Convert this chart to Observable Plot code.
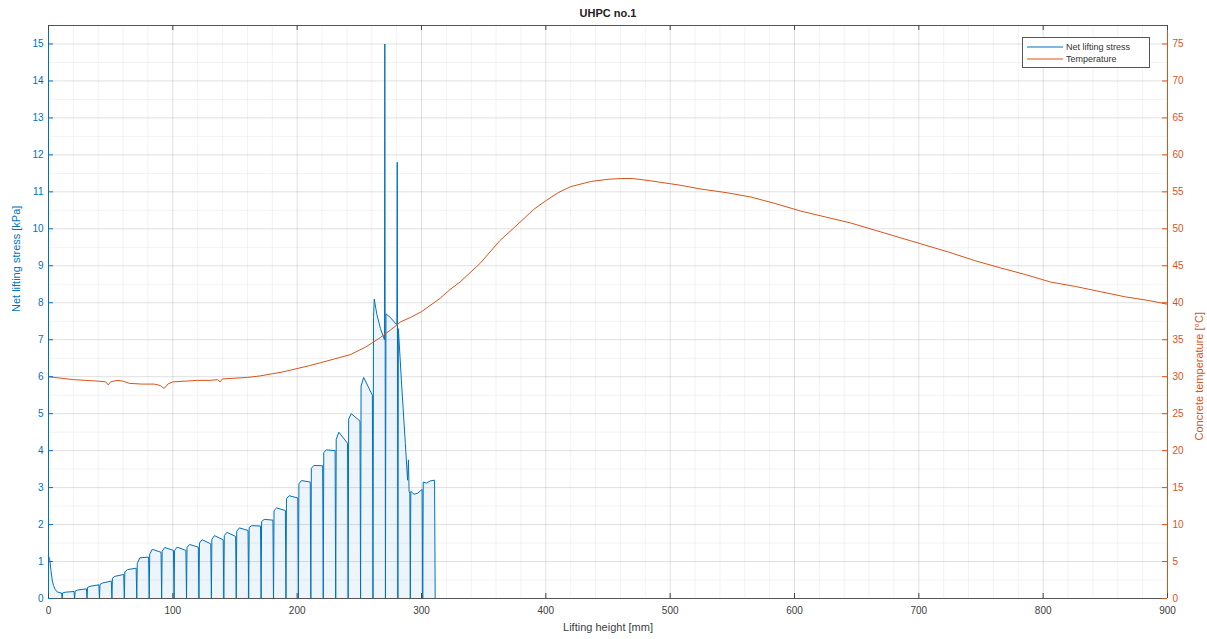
<!DOCTYPE html>
<html>
<head>
<meta charset="utf-8">
<script src="https://cdn.jsdelivr.net/npm/d3@7"></script>
<script src="https://cdn.jsdelivr.net/npm/@observablehq/plot@0.6"></script>
<style>
  html, body { margin: 0; padding: 0; background: #fff; overflow: hidden; }
  #wrap { position: relative; width: 1207px; height: 639px; }
  #legend { position: absolute; left: 1022px; top: 37px; width: 128px; height: 31px;
    border: 1px solid #555; background: #fff; font-family: "Liberation Sans", Arial, sans-serif;
    font-size: 9px; color: #333; box-sizing: border-box; padding: 3px 4px; }
  #legend .row { display: flex; align-items: center; height: 12px; }
  #legend svg { margin-right: 3px; }
</style>
</head>
<body>
<div id="wrap"></div>
<script>
// ---- Data ----
const title = "UHPC no.1";
const xLabel = "Lifting height [mm]";
const yLabelLeft = "Net lifting stress [kPa]";
const yLabelRight = "Concrete temperature [°C]";
const seriesNames = ["Net lifting stress", "Temperature"];

const xTicks = [0, 100, 200, 300, 400, 500, 600, 700, 800, 900];
const yTicks = [0,1,2,3,4,5,6,7,8,9,10,11,12,13,14,15];
const tempTickLabels = [0,5,10,15,20,25,30,35,40,45,50,55,60,65,70,75];
const xMinor = [20,40,60,80,120,140,160,180,220,240,260,280,320,340,360,380,420,440,460,480,520,540,560,580,620,640,660,680,720,740,760,780,820,840,860,880];
const yMinor = [0.5,1.5,2.5,3.5,4.5,5.5,6.5,7.5,8.5,9.5,10.5,11.5,12.5,13.5,14.5,15.5];

// Net lifting stress [kPa] vs lifting height [mm]
const stressX = [0,1,2,3,4,5.5,7,8.5,10.5,11,
  11.4,13.5,20.5,21,
  21.4,23.5,30.5,31,
  31.4,33.5,40.5,41,
  41.4,43.5,50.5,51,
  51.4,53.5,60.5,61,
  61.4,63.5,70.5,71,
  71.4,73.5,80.5,81,
  81.4,83.5,90.5,91,
  91.4,93.5,100.5,101,
  101.4,103.5,110.5,111,
  111.4,113.5,120.5,121,
  121.4,123.5,130.5,131,
  131.4,133.5,140.5,141,
  141.4,143.5,150.5,151,
  151.4,153.5,160.5,161,
  161.4,163.5,170.5,171,
  171.4,173.5,180.5,181,
  181.4,183.5,190.5,191,
  191.4,193.5,200.5,201,
  201.4,203.5,210.5,211,
  211.4,213.5,220.5,221,
  221.4,223.5,230.5,231,
  231.4,233.5,240.5,241,
  241.4,243.5,250.5,251,
  251.4,253.5,260.5,261,
  261.4,262,264,267,270.2,270.5,271,
  271.4,275,280.2,280.5,281,
  281.4,284,287,288.8,289.5,290,290.6,291,
  291.4,294,297,300.5,301,
  301.4,304,307,310.5,311];
const stressY = [1.15,1.05,0.75,0.5,0.35,0.24,0.18,0.16,0.15,0,
  0.15,0.17,0.19,0,
  0.2,0.23,0.26,0,
  0.3,0.33,0.37,0,
  0.38,0.42,0.47,0,
  0.55,0.6,0.65,0,
  0.72,0.78,0.82,0,
  0.95,1.1,1.12,0,
  1.2,1.33,1.25,0,
  1.28,1.38,1.3,0,
  1.3,1.39,1.3,0,
  1.38,1.46,1.39,0,
  1.5,1.59,1.48,0,
  1.6,1.7,1.59,0,
  1.7,1.79,1.68,0,
  1.82,1.91,1.84,0,
  1.92,1.97,1.96,0,
  2.08,2.14,2.12,0,
  2.38,2.45,2.38,0,
  2.7,2.78,2.72,0,
  3.1,3.19,3.15,0,
  3.52,3.6,3.59,0,
  3.95,4.02,4.0,0,
  4.3,4.5,4.2,0,
  4.85,5.0,4.8,0,
  5.75,5.98,5.5,0,
  7.6,8.1,7.7,7.3,7.0,15.0,0,
  7.7,7.6,7.4,11.8,0,
  7.3,5.8,4.2,3.2,3.75,2.9,2.85,0,
  2.9,2.82,2.85,2.95,0,
  3.15,3.12,3.18,3.2,0];

// Concrete temperature [°C] vs lifting height [mm]
const tempX = [0,10,20,30,40,46,48,50,55,60,65,75,85,90,93,96,100,110,120,130,136,138,140,150,160,170,180,187,195,200,210,219,230,243,255,267,275,283,291,300,315,323,331,347,363,380,390,400,410,420,436,450,460,470,484,500,508,524,545,565,585,605,625,645,665,685,705,725,745,766,786,806,826,846,866,885,900];
const tempY = [30.0,29.8,29.6,29.5,29.4,29.3,28.9,29.3,29.5,29.4,29.1,29.0,29.0,28.8,28.4,29.0,29.3,29.4,29.5,29.5,29.6,29.3,29.7,29.8,29.9,30.1,30.4,30.6,30.9,31.1,31.5,31.9,32.4,33.0,34.0,35.3,36.3,37.4,38.0,38.8,40.6,41.8,42.8,45.3,48.4,51.0,52.6,53.8,54.9,55.7,56.4,56.7,56.8,56.8,56.5,56.1,55.9,55.4,54.9,54.3,53.4,52.4,51.6,50.8,49.8,48.8,47.8,46.8,45.7,44.7,43.8,42.8,42.2,41.5,40.8,40.3,39.8];

// ---- Build tables ----
const stress = stressX.map((x, i) => ({x, v: stressY[i]}));
const temp = tempX.map((x, i) => ({x, t: tempY[i]}));
const tempScale = 5; // right axis = 5 × left axis

const W = 1207, H = 639;
const mL = 48, mR = 40, mT = 25, mB = 41;
const plotW = W - mL - mR, plotH = H - mT - mB;
const BLUE = "#0072BD", ORANGE = "#D95319", DARK = "#404040";

const chart = Plot.plot({
  width: W, height: H,
  marginLeft: mL, marginRight: mR, marginTop: mT, marginBottom: mB,
  style: {fontFamily: "'Liberation Sans', Arial, sans-serif", fontSize: "10px", background: "#fff"},
  x: {domain: [0, 900]},
  y: {domain: [0, 15.5]},
  marks: [
    Plot.gridX(xMinor, {stroke: "#000", strokeOpacity: 0.05}),
    Plot.gridY(yMinor, {stroke: "#000", strokeOpacity: 0.05}),
    Plot.gridX(xTicks, {stroke: "#000", strokeOpacity: 0.12}),
    Plot.gridY(yTicks, {stroke: "#000", strokeOpacity: 0.12}),
    Plot.areaY(stress, {x: "x", y: "v", fill: BLUE, fillOpacity: 0.07}),
    Plot.line(stress, {x: "x", y: "v", stroke: BLUE, strokeWidth: 1}),
    Plot.line(temp, {x: "x", y: d => d.t / tempScale, stroke: ORANGE, strokeWidth: 1}),
    // box / axis lines
    Plot.ruleY([15.5], {stroke: "#555"}),
    Plot.ruleY([0], {stroke: "#555"}),
    Plot.ruleX([0], {stroke: BLUE}),
    Plot.ruleX([900], {stroke: ORANGE}),
    // inward ticks
    Plot.tickX(xTicks, {x: d => d, stroke: "#444", insetTop: plotH - 5}),
    Plot.tickX(xTicks, {x: d => d, stroke: "#444", insetBottom: plotH - 5}),
    Plot.tickY(yTicks, {y: d => d, stroke: BLUE, insetRight: plotW - 5}),
    Plot.tickY(yTicks, {y: d => d, stroke: ORANGE, insetLeft: plotW - 5}),
    // axes labels
    Plot.axisX(xTicks, {anchor: "bottom", tickSize: 0, tickPadding: 8, label: null, color: DARK}),
    Plot.axisY(yTicks, {anchor: "left", tickSize: 0, tickPadding: 5, label: null, color: BLUE}),
    Plot.axisY(yTicks, {anchor: "right", tickSize: 0, tickPadding: 5, label: null, color: ORANGE,
      tickFormat: (d, i) => tempTickLabels[i]}),
    // titles
    Plot.text([title], {text: d => d, frameAnchor: "top", dy: -16, fontWeight: "bold", fontSize: 11, fill: "#222"}),
    Plot.text([xLabel], {text: d => d, frameAnchor: "bottom", dy: 32, fontSize: 11, fill: DARK}),
    Plot.text([yLabelLeft], {text: d => d, frameAnchor: "left", dx: -32, rotate: -90, fontSize: 11, fill: BLUE}),
    Plot.text([yLabelRight], {text: d => d, frameAnchor: "right", dx: 32, rotate: -90, fontSize: 11, fill: ORANGE})
  ]
});

const wrap = document.getElementById("wrap");
wrap.appendChild(chart);

const legend = document.createElement("div");
legend.id = "legend";
const colors = [BLUE, ORANGE];
const NS = "http://www.w3.org/2000/svg";
seriesNames.forEach((name, i) => {
  const row = document.createElement("div");
  row.className = "row";
  const sw = document.createElementNS(NS, "svg");
  sw.setAttribute("width", "36");
  sw.setAttribute("height", "4");
  const ln = document.createElementNS(NS, "line");
  ln.setAttribute("x1", "0"); ln.setAttribute("x2", "36");
  ln.setAttribute("y1", "2"); ln.setAttribute("y2", "2");
  ln.setAttribute("stroke", colors[i]);
  ln.setAttribute("stroke-width", "1.2");
  sw.appendChild(ln);
  const label = document.createElement("span");
  label.textContent = name;
  row.appendChild(sw);
  row.appendChild(label);
  legend.appendChild(row);
});
wrap.appendChild(legend);
</script>
</body>
</html>
